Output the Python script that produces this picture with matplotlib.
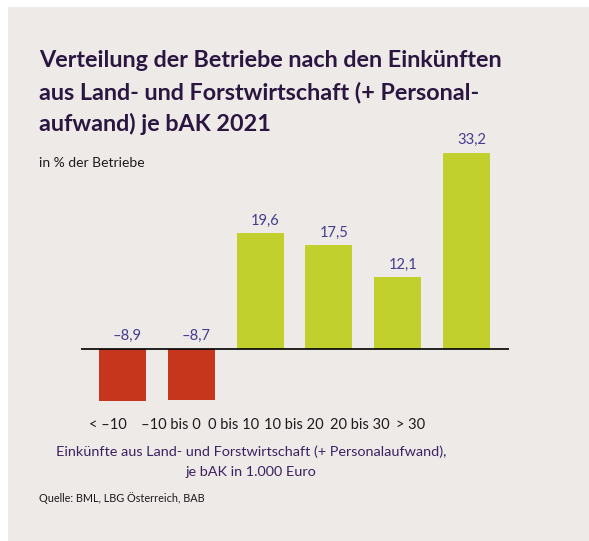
import matplotlib.pyplot as plt
from matplotlib.patches import Rectangle

W, H = 589, 541

title_lines = ["Verteilung der Betriebe nach den Einkünften",
               "aus Land- und Forstwirtschaft (+ Personal-",
               "aufwand) je bAK 2021"]
subtitle = "in % der Betriebe"
categories = ["< –10", "–10 bis 0", "0 bis 10", "10 bis 20", "20 bis 30", "> 30"]
values = [-8.9, -8.7, 19.6, 17.5, 12.1, 33.2]
xlabel_lines = ["Einkünfte aus Land- und Forstwirtschaft (+ Personalaufwand),",
                "je bAK in 1.000 Euro"]
source = "Quelle: BML, LBG Österreich, BAB"

bg = "#EEEAE7"
red = "#C6361D"
green = "#C2D02E"
title_col = "#2A1640"
value_col = "#453C8E"
xlab_col = "#3A2262"

plt.rcParams['font.family'] = ['Lato', 'DejaVu Sans']


def fx(px):
    return px / W


def fy(py):
    return 1 - py / H


fig = plt.figure(figsize=(W / 100, H / 100), dpi=100)
fig.patch.set_facecolor("white")
fig.patches.append(Rectangle((fx(8), 0), 1 - fx(8), fy(7), transform=fig.transFigure,
                             facecolor=bg, edgecolor="none", zorder=-10))

# axes placed so that the zero line runs across the chart area
left, right = 81, 509
top, bottom = 142.2, 407.7
ax = fig.add_axes([fx(left), fy(bottom), (right - left) / W, (bottom - top) / H])
ax.set_facecolor("none")

xs = list(range(len(values)))
colors = [red if v < 0 else green for v in values]
ax.bar(xs, values, width=0.683, color=colors, zorder=2)
ax.axhline(0, color="black", lw=1.2, zorder=3)
ax.set_xlim(-0.603, 5.617)
ax.set_ylim(-10, 35)
ax.axis("off")

for x, v in zip(xs, values):
    label = f"{abs(v):.1f}".replace(".", ",")
    if v < 0:
        label = "–" + label
    ax.annotate(label, (x, max(v, 0)), xytext=(3.6, 4), textcoords="offset points",
                ha="center", va="bottom", fontsize=10.6, color=value_col)

# category labels sit in a compact row below the chart
cat_px = [108, 171, 234, 294, 359.5, 411]
for px, c in zip(cat_px, categories):
    fig.text(fx(px), fy(425), c, ha="center", va="center", fontsize=10.5, color="#1E1A1E")

for i, line in enumerate(title_lines):
    fig.text(fx(39), fy(67 + 32 * i), line, ha="left", va="baseline",
             fontsize=16.8, fontweight="bold", color=title_col)

fig.text(fx(39), fy(163), subtitle, ha="left", va="center", fontsize=10, color="#1E1A1E")

fig.text(fx(251), fy(452), xlabel_lines[0], ha="center", va="center", fontsize=10.4, color=xlab_col)
fig.text(fx(251), fy(472), xlabel_lines[1], ha="center", va="center", fontsize=10.4, color=xlab_col)

fig.text(fx(39), fy(498), source, ha="left", va="center", fontsize=7.8, color="#1E1A1E")

fig.savefig("out.png", dpi=100, facecolor=fig.get_facecolor())
